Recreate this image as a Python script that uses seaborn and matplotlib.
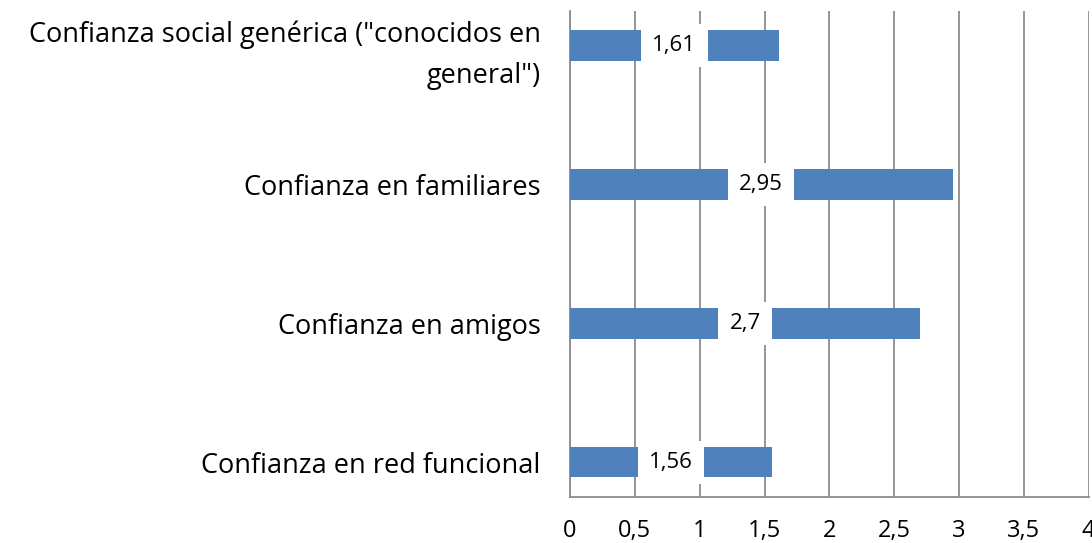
import matplotlib
matplotlib.use("Agg")
import matplotlib.pyplot as plt
import seaborn as sns
import pandas as pd
import numpy as np

categories = ['Confianza social genérica ("conocidos en\ngeneral")',
              "Confianza en familiares",
              "Confianza en amigos",
              "Confianza en red funcional"]
values = [1.61, 2.95, 2.7, 1.56]
value_labels = ["1,61", "2,95", "2,7", "1,56"]
x_ticks = [0, 0.5, 1, 1.5, 2, 2.5, 3, 3.5, 4]
x_tick_labels = ["0", "0,5", "1", "1,5", "2", "2,5", "3", "3,5", "4"]

sns.set_style("white")
plt.rcParams['font.family'] = ['Open Sans', 'DejaVu Sans']
plt.rcParams['text.color'] = 'black'
plt.rcParams['xtick.labelcolor'] = 'black'
plt.rcParams['ytick.labelcolor'] = 'black'

df = pd.DataFrame({"cat": categories, "val": values})

fig = plt.figure(figsize=(10.92, 5.43), dpi=100)
ax = fig.add_axes([0.522, 0.085, 0.475, 0.895])

sns.barplot(data=df, y="cat", x="val", order=categories, color="#4F81BD",
            width=0.22, saturation=1, linewidth=0, ax=ax, zorder=3)

ax.set_xlim(0, 4)
ax.set_ylim(3.25, -0.25)
ax.set_xlabel("")
ax.set_ylabel("")

ax.set_xticks(x_ticks)
ax.set_xticklabels(x_tick_labels, fontsize=17)
ax.xaxis.grid(True, color="#8c8c8c", linewidth=1.3, zorder=0)
ax.set_axisbelow(True)

ax.set_yticks(range(len(categories)))
ax.set_yticklabels(categories, fontsize=19.5, ha="right")
for t in ax.get_yticklabels():
    t.set_linespacing(1.6)
ax.tick_params(axis="y", which="major", length=0, pad=21)
ax.set_yticks(np.arange(-0.25, 3.3, 0.5), minor=True)
ax.tick_params(axis="y", which="minor", length=10, color="#8c8c8c", width=1.3, direction="out")
ax.tick_params(axis="x", which="major", length=8, color="#8c8c8c", width=1.3, direction="out", pad=8)

for s in ["top", "right"]:
    ax.spines[s].set_visible(False)
for s in ["left", "bottom"]:
    ax.spines[s].set_color("#8c8c8c")
    ax.spines[s].set_linewidth(1.3)

for i, (v, lab) in enumerate(zip(values, value_labels)):
    ax.text(v / 2, i, lab, ha="center", va="center", fontsize=16, zorder=5,
            bbox=dict(boxstyle="square,pad=0.5", fc="white", ec="none"))

fig.savefig("out.png", dpi=100)
